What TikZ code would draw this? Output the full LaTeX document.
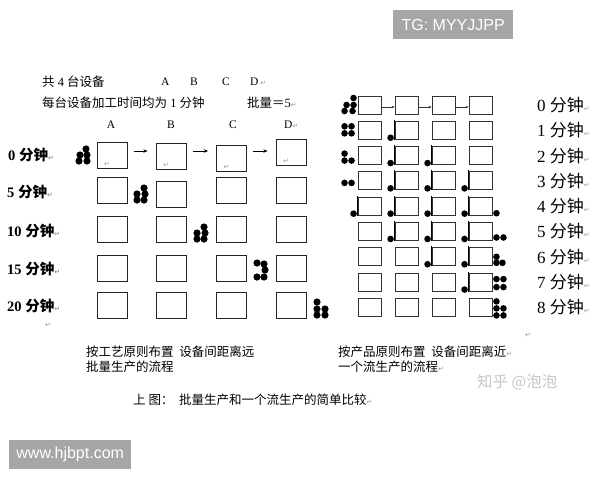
\documentclass[tikz,border=0pt]{standalone}
\usepackage{fontspec}
\usetikzlibrary{arrows.meta}
\setmainfont{Liberation Serif}
\newfontfamily\zhf{Noto Sans CJK SC}
\newfontfamily\wmf{Liberation Sans}
\newfontfamily\symf{DejaVu Sans}
\newcommand\zh[1]{{\zhf #1}}
\newcommand\fsz[1]{\fontsize{#1}{#1}\selectfont}
\newcommand\pmk{{\symf\fontsize{7}{7}\selectfont\textcolor{black!40}{↵}}}
\begin{document}
\begin{tikzpicture}[x=1pt,y=-1pt,
  lbox/.style={draw=black!85,line width=1pt,minimum width=30pt,minimum height=26pt,inner sep=0pt},
  rbox/.style={draw=black!80,line width=0.9pt,minimum width=23pt,minimum height=18pt,inner sep=0pt},
  txt/.style={anchor=west,inner sep=0pt},
  hd/.style={inner sep=0pt,font=\fsz{12.5}},
  llab/.style={anchor=west,inner sep=0pt,font=\fsz{14.5}\bfseries},
  rlab/.style={anchor=west,inner sep=0pt,font=\fsz{17}},
  larr/.style={-{Stealth[length=4pt,width=3.5pt]},line width=0.9pt},
  rarr/.style={-{Stealth[length=3pt,width=2.5pt]},line width=0.7pt,draw=black!80},
  wm/.style={fill=black!35,text=white,font=\wmf\fsz{16},inner sep=0pt,minimum height=29pt}
]
\useasboundingbox (0,0) rectangle (600,480);
\fill[white] (0,0) rectangle (600,480);

% ---------- header ----------
\node[txt,font=\fsz{12.5}] (h1) at (42,82) {\zh{共} 4 \zh{台设备}};
\node[txt,font=\fsz{11.5}] (hA) at (161,82) {A};
\node[txt,font=\fsz{11.5}] (hB) at (190,82) {B};
\node[txt,font=\fsz{11.5}] (hC) at (222,82) {C};
\node[txt,font=\fsz{11.5}] (hD) at (250,82) {D\,\pmk};
\node[txt,font=\fsz{12.5}] (h2) at (42,103) {\zh{每台设备加工时间均为} 1 \zh{分钟}};
\node[txt,font=\fsz{12.5}] (h3) at (247,103) {\zh{批量＝}5\pmk};

% column headers
\node[hd,font=\fsz{11.5}] (cA) at (111,125) {A};
\node[hd,font=\fsz{11.5}] (cB) at (171,125) {B};
\node[hd,font=\fsz{11.5}] (cC) at (233,125) {C};
\node[hd,font=\fsz{11.5},anchor=west] (cD) at (284,125) {D\pmk};

% ---------- left grid ----------
\node[lbox] (L01) at (112,155) {};
\node[lbox] (L02) at (171,156) {};
\node[lbox] (L03) at (231.5,158) {};
\node[lbox] (L04) at (291,152) {};
\node at ([xshift=-5pt,yshift=4pt]L01.south) {\pmk};
\node at ([xshift=-5pt,yshift=4pt]L02.south) {\pmk};
\node at ([xshift=-5pt,yshift=4pt]L03.south) {\pmk};
\node at ([xshift=-5pt,yshift=4pt]L04.south) {\pmk};
\coordinate (ay) at (0,151);
\draw[larr] ([xshift=6pt]L01.east |- ay) -- ([xshift=-8pt]L02.west |- ay);
\draw[larr] ([xshift=6pt]L02.east |- ay) -- ([xshift=-8pt]L03.west |- ay);
\draw[larr] ([xshift=6pt]L03.east |- ay) -- ([xshift=-8pt]L04.west |- ay);

\node[lbox] (L11) at (112,190.5) {};
\node[lbox] (L12) at (171,194) {};
\node[lbox] (L13) at (231.5,190.5) {};
\node[lbox] (L14) at (291,190.5) {};

\node[lbox] (L21) at (112,229.5) {};
\node[lbox] (L22) at (171,229.5) {};
\node[lbox] (L23) at (231.5,229.5) {};
\node[lbox] (L24) at (291,229.5) {};

\node[lbox] (L31) at (112,268) {};
\node[lbox] (L32) at (171,268) {};
\node[lbox] (L33) at (231.5,268) {};
\node[lbox] (L34) at (291,268) {};

\node[lbox] (L41) at (112,305) {};
\node[lbox] (L42) at (171,305) {};
\node[lbox] (L43) at (231.5,305) {};
\node[lbox] (L44) at (291,305) {};

% left row labels
\node[llab] (t0) at (8,155) {0 \zh{分钟}\pmk};
\node[llab] (t5) at (7,192) {5 \zh{分钟}\pmk};
\node[llab] (t10) at (7,231) {10 \zh{分钟}\pmk};
\node[llab] (t15) at (7,269) {15 \zh{分钟}\pmk};
\node[llab] (t20) at (7,306) {20 \zh{分钟}\pmk};
\node (pm1) at (48,325) {\pmk};

% batch dots
\begin{scope}[black]
  \foreach \p in {(3,-6),(-3,0),(4,0),(-4,6),(4,6)} \fill ([shift={\p}]83,155) circle[radius=3.6];
  \foreach \p in {(3,-6),(-4,0),(4,0),(-4,6),(3,6)} \fill ([shift={\p}]141,194) circle[radius=3.6];
  \foreach \p in {(3,-6),(-4,0),(4,0),(-4,6),(3,6)} \fill ([shift={\p}]201,233) circle[radius=3.6];
  \foreach \p in {(-4,-7),(3,-6),(4,0),(-4,7),(3,7)} \fill ([shift={\p}]261,270) circle[radius=3.6];
  \foreach \p in {(-4,-7),(-4,0),(4,0),(-4,6),(4,6)} \fill ([shift={\p}]321,309) circle[radius=3.6];
\end{scope}

% ---------- right grid ----------
\foreach \r in {0,...,8}
  \foreach \c in {1,...,4}
    \node[rbox] (R\r\c) at ({369.5+37*(\c-1)},{105+25.3*\r}) {};

\draw[rarr] ([yshift=-2pt]R01.east) -- ([yshift=-2pt]R02.west);
\draw[rarr] ([yshift=-2pt]R02.east) -- ([yshift=-2pt]R03.west);
\draw[rarr] ([yshift=-2pt]R03.east) -- ([yshift=-2pt]R04.west);

% single items at lower-left corners
\foreach \r/\c in {1/2, 2/2,2/3, 3/2,3/3,3/4, 4/1,4/2,4/3,4/4, 5/2,5/3,5/4, 6/3,6/4, 7/4}{
  \draw[line width=1.3pt] (R\r\c.south west) -- ([yshift=1pt]R\r\c.north west);
  \fill ([shift={(-4,-2)}]R\r\c.south west) circle[radius=3.3];
}
% waiting items left of first machine
\foreach \p in {(-4,-7),(-11,0),(-4,0),(-13,6),(-5,6)} \fill ([shift={\p}]R01.west) circle[radius=3.3];
\foreach \p in {(-13,-4),(-6,-4),(-13,3),(-6,3)} \fill ([shift={\p}]R11.west) circle[radius=3.3];
\foreach \p in {(-13,-2),(-13,5),(-6,5)} \fill ([shift={\p}]R21.west) circle[radius=3.3];
\foreach \p in {(-13,2),(-6,2)} \fill ([shift={\p}]R31.west) circle[radius=3.3];
% finished items right of last machine
\foreach \p in {(4,7)} \fill ([shift={\p}]R44.east) circle[radius=3.3];
\foreach \p in {(4,6),(11,6)} \fill ([shift={\p}]R54.east) circle[radius=3.3];
\foreach \p in {(4,0),(4,6),(10,6)} \fill ([shift={\p}]R64.east) circle[radius=3.3];
\foreach \p in {(4,-3),(11,-3),(4,5),(11,5)} \fill ([shift={\p}]R74.east) circle[radius=3.3];
\foreach \p in {(4,-6),(4,1),(11,1),(4,8),(11,8)} \fill ([shift={\p}]R84.east) circle[radius=3.3];

% right row labels
\foreach \r in {0,...,8}
  \node[rlab] (m\r) at (537,{105+25.3*\r}) {\r\ \zh{分钟}\pmk};

% ---------- bottom texts ----------
\node[txt,font=\fsz{12.5}] (b1) at (86,352) {\zh{按工艺原则布置\ \ 设备间距离远}};
\node[txt,font=\fsz{12.5}] (b2) at (86,367) {\zh{批量生产的流程}};
\node[txt,font=\fsz{12.5}] (b3) at (338,352) {\zh{按产品原则布置\ \ 设备间距离近}\pmk};
\node[txt,font=\fsz{12.5}] (b4) at (338,367) {\zh{一个流生产的流程}\pmk};
\node (pm2) at (528,335) {\pmk};
\node[txt,font=\fsz{12.5}] (cap) at (133,400) {\zh{上\ 图：\ \ 批量生产和一个流生产的简单比较}\pmk};

% ---------- watermarks ----------
\node[txt,font=\fsz{15.5},text=black!22] (zhihu) at (477,382) {\zh{知乎 @泡泡}};
\node[wm,anchor=north west,minimum width=120pt] (tg) at (393,10) {TG: MYYJJPP};
\node[wm,anchor=north west,minimum width=122pt] (web) at (9,440) {www.hjbpt.com};
\end{tikzpicture}
\end{document}
